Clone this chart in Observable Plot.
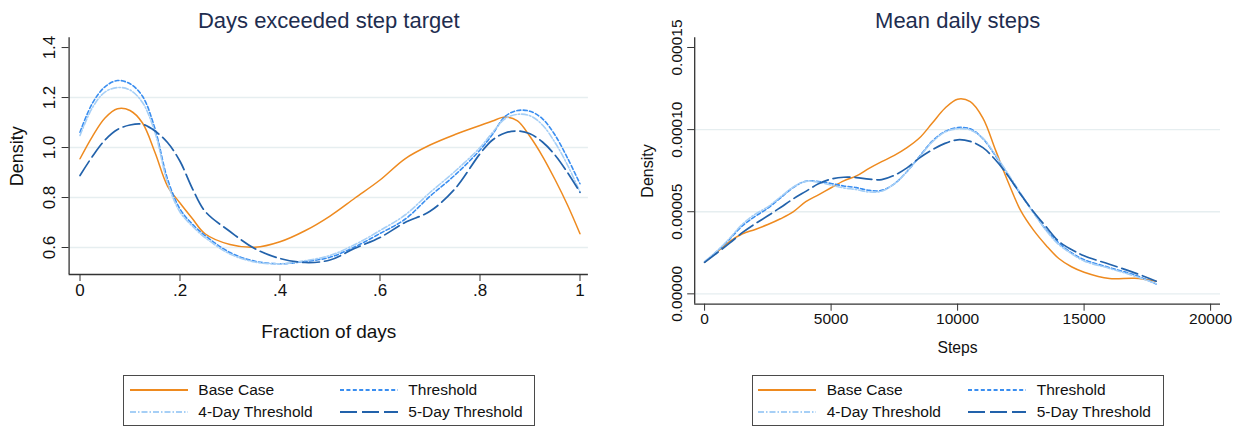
<!DOCTYPE html>
<html>
<head>
<meta charset="utf-8">
<script src="https://cdn.jsdelivr.net/npm/d3@7"></script>
<script src="https://cdn.jsdelivr.net/npm/@observablehq/plot@0.6"></script>
<style>
  html, body { margin: 0; padding: 0; background: #ffffff; }
  #wrap { position: relative; width: 1243px; height: 428px; overflow: hidden;
          font-family: "Liberation Sans", Arial, Helvetica, sans-serif; background: #fff; }
  .panel { position: absolute; top: 0; }
  .legend { position: absolute; top: 375px; width: 412px; height: 51px; border: 1px solid #4a4a4a; box-sizing: border-box; background: #fff; }
  .legend .lbl { position: absolute; font-size: 15.5px; line-height: 15.5px; color: #111; white-space: nowrap; }
  .legend svg { position: absolute; overflow: visible; }
</style>
</head>
<body>
<div id="wrap"></div>
<script>
// ---------- series meta ----------
const seriesNames = ["Base Case", "Threshold", "4-Day Threshold", "5-Day Threshold"];

// ---------- left panel: Days exceeded step target ----------
const leftX = [0, 0.025, 0.05, 0.075, 0.1, 0.125, 0.15, 0.175, 0.2, 0.225, 0.25, 0.3, 0.35, 0.4, 0.45, 0.5,
               0.55, 0.6, 0.65, 0.7, 0.75, 0.8, 0.825, 0.85, 0.875, 0.9, 0.925, 0.95, 0.975, 1];
const leftBase = [0.955, 1.045, 1.118, 1.155, 1.148, 1.098, 0.98, 0.846, 0.778, 0.715, 0.655, 0.612, 0.601, 0.623, 0.667, 0.726,
                  0.798, 0.87, 0.955, 1.01, 1.052, 1.088, 1.106, 1.122, 1.107, 1.044, 0.965, 0.872, 0.77, 0.655];
const leftThreshold = [1.061, 1.178, 1.243, 1.268, 1.255, 1.205, 1.075, 0.874, 0.754, 0.693, 0.648, 0.58, 0.545, 0.535, 0.544, 0.561,
                       0.603, 0.656, 0.713, 0.805, 0.89, 0.99, 1.053, 1.124, 1.148, 1.145, 1.115, 1.05, 0.958, 0.855];
const left4Day = [1.048, 1.16, 1.222, 1.24, 1.23, 1.18, 1.06, 0.86, 0.742, 0.685, 0.64, 0.574, 0.542, 0.535, 0.547, 0.568,
                  0.612, 0.668, 0.73, 0.82, 0.905, 1.0, 1.06, 1.115, 1.133, 1.127, 1.09, 1.02, 0.93, 0.822];
const left5Day = [0.888, 0.965, 1.03, 1.072, 1.09, 1.093, 1.066, 1.02, 0.945, 0.835, 0.745, 0.664, 0.595, 0.556, 0.54, 0.55,
                  0.597, 0.64, 0.7, 0.745, 0.835, 0.975, 1.03, 1.058, 1.066, 1.055, 1.022, 0.97, 0.9, 0.821];
const leftXTicks = [0, 0.2, 0.4, 0.6, 0.8, 1];
const leftXLabels = ["0", ".2", ".4", ".6", ".8", "1"];
const leftYTicks = [0.6, 0.8, 1.0, 1.2, 1.4];
const leftYLabels = ["0.6", "0.8", "1.0", "1.2", "1.4"];
const leftGrid = [0.6, 0.8, 1.0, 1.2];

// ---------- right panel: Mean daily steps ----------
const rightX = [0, 500, 1000, 1500, 2000, 2500, 3000, 3500, 4000, 4500, 5000, 5500, 6000, 6500, 7000, 7500, 8000,
                8500, 9000, 9500, 10000, 10500, 11000, 11500, 12000, 12500, 13000, 13500, 14000, 14500, 15000,
                16000, 17000, 17850];
const rightBase = [1.92e-5, 2.55e-5, 3.2e-5, 3.66e-5, 3.92e-5, 4.22e-5, 4.57e-5, 4.99e-5, 5.61e-5, 6.03e-5, 6.46e-5,
                   6.88e-5, 7.18e-5, 7.64e-5, 8.05e-5, 8.43e-5, 8.9e-5, 9.5e-5, 10.4e-5, 11.3e-5, 11.85e-5, 11.7e-5,
                   10.7e-5, 8.75e-5, 6.8e-5, 5.05e-5, 3.88e-5, 2.95e-5, 2.15e-5, 1.65e-5, 1.32e-5, 0.93e-5, 0.95e-5, 0.77e-5];
const rightThreshold = [1.95e-5, 2.6e-5, 3.35e-5, 4.15e-5, 4.72e-5, 5.22e-5, 5.84e-5, 6.47e-5, 6.86e-5, 6.84e-5, 6.72e-5,
                        6.57e-5, 6.47e-5, 6.3e-5, 6.3e-5, 6.7e-5, 7.45e-5, 8.38e-5, 9.3e-5, 9.88e-5, 10.12e-5, 10.05e-5,
                        9.45e-5, 8.4e-5, 7.2e-5, 6.05e-5, 4.95e-5, 3.9e-5, 3.1e-5, 2.5e-5, 2.08e-5, 1.6e-5, 1.15e-5, 0.6e-5];
const right4Day = [1.95e-5, 2.62e-5, 3.4e-5, 4.25e-5, 4.85e-5, 5.3e-5, 5.9e-5, 6.5e-5, 6.85e-5, 6.8e-5, 6.62e-5,
                   6.45e-5, 6.35e-5, 6.2e-5, 6.25e-5, 6.7e-5, 7.45e-5, 8.35e-5, 9.25e-5, 9.85e-5, 10.05e-5, 9.98e-5,
                   9.48e-5, 8.45e-5, 7.3e-5, 6.1e-5, 4.95e-5, 3.85e-5, 3.0e-5, 2.45e-5, 2.0e-5, 1.55e-5, 1.08e-5, 0.62e-5];
const right5Day = [1.92e-5, 2.5e-5, 3.1e-5, 3.74e-5, 4.27e-5, 4.75e-5, 5.26e-5, 5.78e-5, 6.24e-5, 6.7e-5, 6.99e-5,
                   7.1e-5, 7.08e-5, 6.98e-5, 6.96e-5, 7.22e-5, 7.67e-5, 8.28e-5, 8.77e-5, 9.16e-5, 9.38e-5, 9.28e-5,
                   8.9e-5, 8.15e-5, 7.18e-5, 6.05e-5, 5.0e-5, 4.08e-5, 3.2e-5, 2.7e-5, 2.32e-5, 1.8e-5, 1.28e-5, 0.77e-5];
const rightXTicks = [0, 5000, 10000, 15000, 20000];
const rightXLabels = ["0", "5000", "10000", "15000", "20000"];
const rightYTicks = [0, 0.00005, 0.0001, 0.00015];
const rightYLabels = ["0.00000", "0.00005", "0.00010", "0.00015"];
const rightGrid = [0, 0.00005, 0.0001];

// ---------- styles ----------
const seriesColors = ["#ee8a1f", "#3a8ef0", "#a6cff6", "#2262ab"];
const seriesDash = [null, "4,2.4", "6,2,1.5,2", "17,5"];
const seriesWidths = [1.5, 1.6, 1.6, 1.7];
const axisColor = "#333333";
const navy = "#1e2d4f";
const fontFamily = '"Liberation Sans", Arial, Helvetica, sans-serif';

function panel(cfg) {
  const rows = [];
  cfg.series.forEach((ys, k) => cfg.x.forEach((x, i) => rows.push({x, y: ys[i], k})));
  const marks = [Plot.ruleY(cfg.grid, {stroke: "#e6eef0", strokeWidth: 1.4})];
  seriesNames.forEach((name, k) => {
    marks.push(Plot.line(rows.filter(r => r.k === k), {
      x: "x", y: "y", stroke: seriesColors[k], strokeWidth: seriesWidths[k],
      strokeDasharray: seriesDash[k], curve: "catmull-rom"
    }));
  });
  marks.push(
    Plot.ruleX([cfg.xDomain[0]], {stroke: axisColor, strokeWidth: 1.3}),
    Plot.ruleY([cfg.yDomain[0]], {stroke: axisColor, strokeWidth: 1.3}),
    Plot.axisX({ticks: cfg.xTicks, tickFormat: d => cfg.xLabels[cfg.xTicks.indexOf(d)], tickSize: 7,
                tickPadding: cfg.xPad, fontSize: cfg.tickFont, label: null, stroke: axisColor, fill: "#111"}),
    Plot.axisY({ticks: cfg.yTicks, tickSize: 7, fill: "none", label: null, stroke: axisColor}),
    Plot.text(cfg.yTicks.map((v, i) => ({v, t: cfg.yLabels[i]})), {
      y: "v", text: "t", frameAnchor: "left", rotate: -90, textAnchor: "middle", lineAnchor: "bottom",
      dx: cfg.yDx, fontSize: cfg.yTickFont, fill: "#111"
    }),
    Plot.text([cfg.title], {text: d => d, frameAnchor: "top", dy: cfg.titleDy, lineAnchor: "bottom",
                            fontSize: 22, fill: navy}),
    Plot.text([cfg.xTitle], {text: d => d, frameAnchor: "bottom", dy: cfg.xTitleDy, lineAnchor: "bottom",
                             fontSize: cfg.xTitleFont, fill: "#111"}),
    Plot.text([cfg.yTitle], {text: d => d, frameAnchor: "left", dx: cfg.yTitleDx, rotate: -90,
                             textAnchor: "middle", lineAnchor: "bottom", fontSize: cfg.yTitleFont, fill: "#111"})
  );
  const svg = Plot.plot({
    width: cfg.width, height: 360,
    marginLeft: cfg.ml, marginRight: cfg.mr, marginTop: cfg.mt, marginBottom: cfg.mb,
    x: {domain: cfg.xDomain},
    y: {domain: cfg.yDomain},
    style: {fontFamily, background: "transparent", overflow: "visible", color: "#111"},
    marks
  });
  return svg;
}

const wrap = document.getElementById("wrap");

const leftSvg = panel({
  width: 620, ml: 68.6, mr: 620 - 587.9, mt: 37.3, mb: 360 - 274,
  x: leftX, series: [leftBase, leftThreshold, left4Day, left5Day],
  xDomain: [-0.0218, 1.0168], yDomain: [0.492, 1.439],
  xTicks: leftXTicks, xLabels: leftXLabels, yTicks: leftYTicks, yLabels: leftYLabels, grid: leftGrid,
  tickFont: 17, yTickFont: 17, xPad: 2, yDx: -14.2,
  title: "Days exceeded step target", titleDy: -9.8,
  xTitle: "Fraction of days", xTitleDy: 63, xTitleFont: 19,
  yTitle: "Density", yTitleDx: 22 - 68.6, yTitleFont: 18
});
leftSvg.classList.add("panel");
leftSvg.style.left = "0px";
wrap.appendChild(leftSvg);

const rightSvg = panel({
  width: 623, ml: 74.2, mr: 623 - 600, mt: 37.3, mb: 360 - 303.7,
  x: rightX, series: [rightBase, rightThreshold, right4Day, right5Day],
  xDomain: [-391, 20391], yDomain: [-0.0000063, 0.0001559],
  xTicks: rightXTicks, xLabels: rightXLabels, yTicks: rightYTicks, yLabels: rightYLabels, grid: rightGrid,
  tickFont: 15.5, yTickFont: 15.5, xPad: 2, yDx: -12.7,
  title: "Mean daily steps", titleDy: -9.8,
  xTitle: "Steps", xTitleDy: 48.8, xTitleFont: 15.7,
  yTitle: "Density", yTitleDx: 652.5 - 694.2, yTitleFont: 16
});
rightSvg.classList.add("panel");
rightSvg.style.left = "620px";
wrap.appendChild(rightSvg);

// ---------- legends ----------
function legend(left) {
  const box = document.createElement("div");
  box.className = "legend";
  box.style.left = left + "px";
  const slots = [[6.7, 15], [216.7, 15], [6.7, 36.7], [216.7, 36.7]];
  seriesNames.forEach((name, k) => {
    const [sx, sy] = slots[k];
    const ns = "http://www.w3.org/2000/svg";
    const s = document.createElementNS(ns, "svg");
    s.setAttribute("width", 59); s.setAttribute("height", 4);
    s.style.left = (sx - 1) + "px"; s.style.top = (sy - 2 - 1) + "px";
    const ln = document.createElementNS(ns, "line");
    ln.setAttribute("x1", 0); ln.setAttribute("x2", 58); ln.setAttribute("y1", 2); ln.setAttribute("y2", 2);
    ln.setAttribute("stroke", seriesColors[k]);
    ln.setAttribute("stroke-width", seriesWidths[k] + 0.3);
    if (seriesDash[k]) ln.setAttribute("stroke-dasharray", seriesDash[k]);
    s.appendChild(ln);
    box.appendChild(s);
    const t = document.createElement("div");
    t.className = "lbl";
    t.textContent = name;
    t.style.left = (sx - 1 + 68.3) + "px";
    t.style.top = (sy - 1 - 7.75) + "px";
    box.appendChild(t);
  });
  wrap.appendChild(box);
}
legend(123.3);
legend(751.7);
</script>
</body>
</html>
